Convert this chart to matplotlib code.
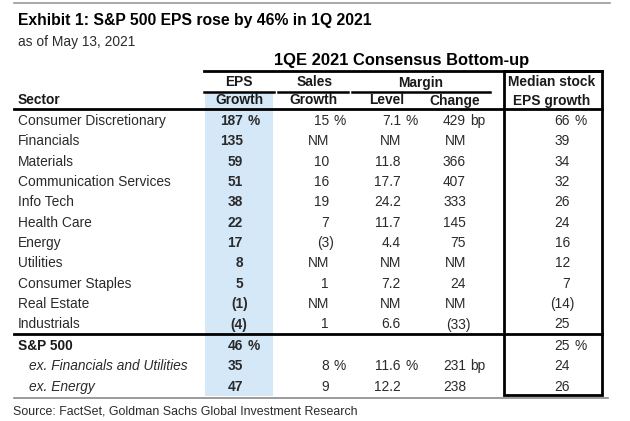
import matplotlib
matplotlib.use("Agg")
import matplotlib.pyplot as plt
from matplotlib.patches import Rectangle

plt.rcParams['font.family'] = ['Liberation Sans', 'DejaVu Sans']

# ---------------- data ----------------
title = "Exhibit 1: S&P 500 EPS rose by 46% in 1Q 2021"
subtitle = "as of May 13, 2021"
group_title = "1QE 2021 Consensus Bottom-up"
source = "Source: FactSet, Goldman Sachs Global Investment Research"

sectors = ["Consumer Discretionary", "Financials", "Materials", "Communication Services",
           "Info Tech", "Health Care", "Energy", "Utilities", "Consumer Staples",
           "Real Estate", "Industrials"]
eps_growth = [187, 135, 59, 51, 38, 22, 17, 8, 5, -1, -4]
sales_growth = [15, "NM", 10, 16, 19, 7, -3, "NM", 1, "NM", 1]
margin_level = [7.1, "NM", 11.8, 17.7, 24.2, 11.7, 4.4, "NM", 7.2, "NM", 6.6]
margin_change = [429, "NM", 366, 407, 333, 145, 75, "NM", 24, "NM", -33]
median_eps = [66, 39, 34, 32, 26, 24, 16, 12, 7, -14, 25]

summary_labels = ["S&P 500", "ex. Financials and Utilities", "ex. Energy"]
summary_eps = [46, 35, 47]
summary_sales = [None, 8, 9]
summary_level = [None, 11.6, 12.2]
summary_change = [None, 231, 238]
summary_median = [25, 24, 26]

# ---------------- layout ----------------
W, H = 630, 421
fig = plt.figure(figsize=(W / 100, H / 100), dpi=100)
ax = fig.add_axes([0, 0, 1, 1])
ax.set_xlim(0, W)
ax.set_ylim(H, 0)
ax.axis('off')

FS = 9.9
TXT = '#2a2a2a'

# columns: right edge of numbers
x_eps, x_sales, x_level, x_change, x_median = 243, 329, 401, 466, 570
PAREN = 4.5

# shading for EPS growth column
ax.add_patch(Rectangle((205, 93), 68, 303, facecolor='#d5e8f8', edgecolor='none', zorder=0))

# lines
ax.plot([14, 610], [3, 3], color='#9a9a9a', lw=1.2)
ax.plot([204, 602], [71, 71], color='black', lw=2.0)
ax.plot([204, 274], [91.5, 91.5], color='black', lw=1.8)
ax.plot([278, 348], [91.5, 91.5], color='black', lw=1.8)
ax.plot([352, 490], [91.5, 91.5], color='black', lw=1.8)
ax.plot([14, 602], [109, 109], color='black', lw=2.0)
ax.plot([14, 602], [334, 334], color='black', lw=2.0)
ax.plot([14, 608], [398, 398], color='#8a8a8a', lw=1.2)
# median box
ax.add_patch(Rectangle((503.5, 71), 98.5, 324, facecolor='none', edgecolor='black', lw=2.0, zorder=3))

# titles
ax.text(18, 20.5, title, fontsize=11.3, fontweight='bold', color='black', va='center', ha='left')
ax.text(18, 42, subtitle, fontsize=FS, color=TXT, va='center', ha='left')
ax.text(401.5, 60, group_title, fontsize=11.9, fontweight='bold', color='black', va='center', ha='center')

# headers
hdr = dict(fontsize=FS, fontweight='bold', color='#1a1a1a', va='center', ha='center')
ax.text(239, 82.5, "EPS", **hdr)
ax.text(315, 82.5, "Sales", **hdr)
ax.text(421, 82.5, "Margin", **hdr)
ax.text(552, 82.5, "Median stock", **hdr)
ax.text(239, 100.5, "Growth", **hdr)
ax.text(313, 100.5, "Growth", **hdr)
ax.text(387, 100.5, "Level", **hdr)
ax.text(455, 100.5, "Change", **hdr)
ax.text(552, 100.5, "EPS growth", **hdr)
ax.text(18, 100.5, "Sector", fontsize=FS, fontweight='bold', color='#1a1a1a', va='center', ha='left')


def fmt(v, decimals=0):
    if v is None:
        return None, 0
    if isinstance(v, str):
        return v, 0
    s = f"{abs(v):.{decimals}f}"
    if v < 0:
        return f"({s})", PAREN
    return s, 0


def put(x, y, v, decimals=0, suffix=None, bold=False):
    s, off = fmt(v, decimals)
    if s is None:
        return
    ax.text(x + off, y, s, fontsize=FS, color=TXT, va='center', ha='right',
            fontweight='bold' if bold else 'normal')
    if suffix:
        ax.text(x + 4.5, y, suffix, fontsize=FS, color=TXT, va='center', ha='left',
                fontweight='bold' if bold else 'normal')


row0, step = 121, 20.35
for i, name in enumerate(sectors):
    y = row0 + i * step
    first = i == 0
    ax.text(18, y, name, fontsize=FS, color=TXT, va='center', ha='left')
    put(x_eps, y, eps_growth[i], 0, '%' if first else None, bold=True)
    put(x_sales, y, sales_growth[i], 0, '%' if first else None)
    put(x_level, y, margin_level[i], 1, '%' if first else None)
    put(x_change, y, margin_change[i], 0, 'bp' if first else None)
    put(x_median, y, median_eps[i], 0, '%' if first else None)

srow0 = 346
for j, name in enumerate(summary_labels):
    y = srow0 + j * 20.3
    if j == 0:
        ax.text(18, y, name, fontsize=FS, fontweight='bold', color='#1a1a1a', va='center', ha='left')
    else:
        ax.text(29, y, name, fontsize=FS, style='italic', color=TXT, va='center', ha='left')
    put(x_eps, y, summary_eps[j], 0, '%' if j == 0 else None, bold=True)
    put(x_sales, y, summary_sales[j], 0, '%' if j == 1 else None)
    put(x_level, y, summary_level[j], 1, '%' if j == 1 else None)
    put(x_change, y, summary_change[j], 0, 'bp' if j == 1 else None)
    put(x_median, y, summary_median[j], 0, '%' if j == 0 else None)

ax.text(13, 412, source, fontsize=8.9, color=TXT, va='center', ha='left')

fig.savefig("out.png", dpi=100)
